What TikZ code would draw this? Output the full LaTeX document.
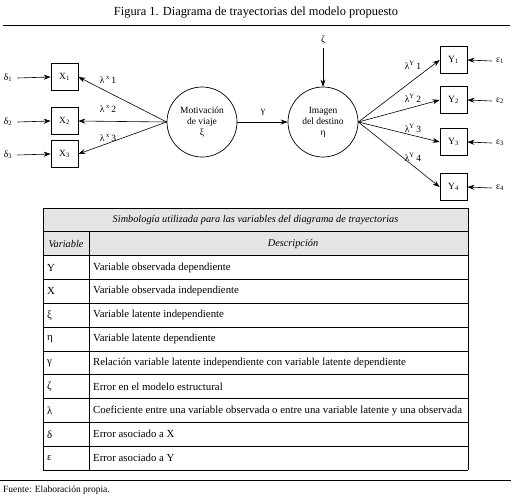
\documentclass[tikz,border=0pt]{standalone}
\usepackage{fontspec}
\setmainfont{Liberation Serif}
\usetikzlibrary{arrows.meta}
\begin{document}
\begin{tikzpicture}[x={(1pt,0pt)},y={(0pt,-1pt)},
  obs/.style={draw, line width=0.7pt, minimum width=27pt, minimum height=27pt, inner sep=0pt, font=\fontsize{9.5}{11}\selectfont},
  lat/.style={draw, line width=0.7pt, circle, minimum size=70pt, inner sep=0pt, align=center, font=\fontsize{9.5}{11}\selectfont},
  arr/.style={-{Stealth[length=7pt,width=5pt]}, line width=0.6pt},
  lbl/.style={inner sep=0pt, font=\fontsize{9.5}{11}\selectfont},
  rule/.style={line width=0.8pt},
  tline/.style={line width=0.8pt},
  ttext/.style={inner sep=0pt, anchor=west, font=\fontsize{10.8}{12}\selectfont},
  thead/.style={inner sep=0pt, font=\fontsize{10.3}{12}\selectfont\itshape}
]
\useasboundingbox (0,0) rectangle (516,501);

% title and rules
\node[inner sep=0pt, font=\fontsize{12.4}{14}\selectfont] (title) at (256,13) {Figura 1. Diagrama de trayectorias del modelo propuesto};
\draw[rule] (3,25) -- (510,25);

% observed X
\node[obs] (X1) at (64.5,77) {X\textsubscript{1}};
\node[obs] (X2) at (64.5,121) {X\textsubscript{2}};
\node[obs] (X3) at (64.5,154) {X\textsubscript{3}};
\node[lbl] (d1) at (8,78) {δ\textsubscript{1}};
\node[lbl] (d2) at (8,122) {δ\textsubscript{2}};
\node[lbl] (d3) at (8,155) {δ\textsubscript{3}};
\draw[arr] (d1.east) ++(5,0) coordinate (d1e) (d1e) -- (X1.west);
\draw[arr] (d2.east) ++(5,0) coordinate (d2e) (d2e) -- (X2.west);
\draw[arr] (d3.east) ++(5,0) coordinate (d3e) (d3e) -- (X3.west);

% latent
\node[lat] (xi) at (202,122) {Motivación\\de viaje\\ξ};
\node[lat] (eta) at (323,122) {Imagen\\del destino\\η};
\draw[arr] (xi.west) -- (X1.east);
\draw[arr] (xi.west) -- (X2.east);
\draw[arr] (xi.west) -- (X3.east);
\node[lbl] (lx1) at (108,80) {λ\,\textsuperscript{x}\,1};
\node[lbl] (lx2) at (108,109) {λ\,\textsuperscript{x}\,2};
\node[lbl] (lx3) at (108,138) {λ\,\textsuperscript{x}\,3};

\draw[arr] (xi.east) -- (eta.west);
\node[lbl] (gam) at (263,112) {γ};

\node[lbl] (zeta) at (323,40) {ζ};
\draw[arr] (zeta.south) ++(0,4) coordinate (ze) (ze) -- (eta.north);

% observed Y
\node[obs] (Y1) at (453.5,60) {Y\textsubscript{1}};
\node[obs] (Y2) at (453.5,100) {Y\textsubscript{2}};
\node[obs] (Y3) at (453.5,142) {Y\textsubscript{3}};
\node[obs] (Y4) at (453.5,187) {Y\textsubscript{4}};
\draw[arr] (eta.east) -- (Y1.west);
\draw[arr] (eta.east) -- (Y2.west);
\draw[arr] (eta.east) -- (Y3.west);
\draw[arr] (eta.east) -- (Y4.west);
\node[lbl] (ly1) at (413,65) {λ\textsuperscript{Y}\,1};
\node[lbl] (ly2) at (413,98) {λ\textsuperscript{Y}\,2};
\node[lbl] (ly3) at (413,128) {λ\textsuperscript{Y}\,3};
\node[lbl] (ly4) at (413,157) {λ\textsuperscript{Y}\,4};
\node[lbl] (e1) at (500,61) {ε\textsubscript{1}};
\node[lbl] (e2) at (500,101) {ε\textsubscript{2}};
\node[lbl] (e3) at (500,143) {ε\textsubscript{3}};
\node[lbl] (e4) at (500,188) {ε\textsubscript{4}};
\draw[arr] (e1.west) ++(-4,0) coordinate (e1w) (e1w) -- (Y1.east);
\draw[arr] (e2.west) ++(-4,0) coordinate (e2w) (e2w) -- (Y2.east);
\draw[arr] (e3.west) ++(-4,0) coordinate (e3w) (e3w) -- (Y3.east);
\draw[arr] (e4.west) ++(-4,0) coordinate (e4w) (e4w) -- (Y4.east);

% table
\def\rh{23.82}
\fill[gray!20] (43,208) rectangle (468,{208+2*\rh});
\foreach \k in {0,...,11} {\draw[tline] (43,{208+\k*\rh}) -- (468,{208+\k*\rh});}
\draw[tline] (43,208) -- (43,{208+11*\rh});
\draw[tline] (468,208) -- (468,{208+11*\rh});
\draw[tline] (89,{208+\rh}) -- (89,{208+11*\rh});
\node[thead] (th) at (255.5,{208+0.5*\rh}) {Simbología utilizada para las variables del diagrama de trayectorias};
\node[thead] (tv) at (66,{208+1.5*\rh}) {Variable};
\node[thead] (td) at (293,{208+1.5*\rh}) {Descripción};
\foreach \i/\s/\d in {2/{Y}/{Variable observada dependiente},
  3/{X}/{Variable observada independiente},
  4/{ξ}/{Variable latente independiente},
  5/{η}/{Variable latente dependiente},
  6/{γ}/{Relación variable latente independiente con variable latente dependiente},
  7/{ζ}/{Error en el modelo estructural},
  8/{λ}/{Coeficiente entre una variable observada o entre una variable latente y una observada},
  9/{δ}/{Error asociado a X},
  10/{ε}/{Error asociado a Y}} {
  \node[ttext] (s\i) at (47,{208+(\i+0.5)*\rh}) {\s};
  \node[ttext] (t\i) at (93,{208+(\i+0.5)*\rh}) {\d};
}

\draw[rule] (0,480) -- (511,480);
\node[inner sep=0pt, anchor=west, font=\fontsize{9.5}{11}\selectfont] (src) at (3,490) {Fuente: Elaboración propia.};
\end{tikzpicture}
\end{document}
